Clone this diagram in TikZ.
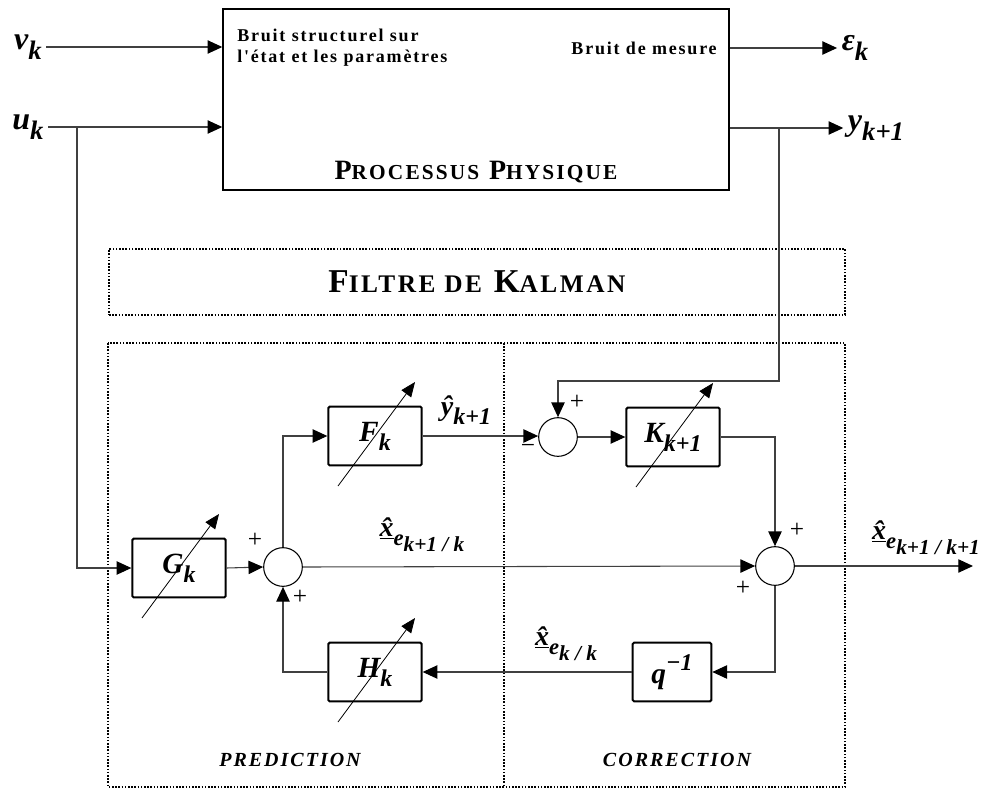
\documentclass[tikz,border=0pt]{standalone}
\usepackage{fontspec}
\setmainfont{Liberation Serif}
\newfontfamily\spaced[LetterSpace=10]{Liberation Serif}
\usetikzlibrary{arrows.meta,calc}

\tikzset{
  wire/.style={line width=0.8pt, draw=black!75},
  sig/.style={wire, -{Triangle[length=11pt,width=10pt,color=black]}},
  block/.style={draw, line width=1.5pt, rounded corners=1pt, minimum width=70pt,
    minimum height=44pt, inner sep=0pt, font=\fontsize{22}{22}\selectfont\bfseries\itshape},
  sum/.style={circle, draw, line width=0.8pt, minimum size=29pt, inner sep=0pt},
  adj/.style={line width=0.6pt, -{Triangle[length=11pt,width=9pt]}},
  frame/.style={draw, line width=1.2pt, dash pattern=on 1.2pt off 1.2pt},
  sgn/.style={font=\fontsize{19}{19}\selectfont},
  lbl/.style={font=\fontsize{24}{24}\selectfont\bfseries\itshape},
  est/.style={font=\fontsize{21}{21}\selectfont\bfseries\itshape},
  zonelbl/.style={font=\spaced\fontsize{15}{15}\selectfont\bfseries\itshape},
}
\newcommand{\lo}[2][18]{\raisebox{-0.3em}{\fontsize{#1}{#1}\selectfont #2}}
\newcommand{\up}[2][18]{\raisebox{0.45em}{\fontsize{#1}{#1}\selectfont #2}}
\newcommand{\tunable}[1]{\draw[adj] ([shift={(-37,50)}]#1.center) -- ([shift={(40,-54)}]#1.center);}

\begin{document}
\begin{tikzpicture}[x=0.75pt, y=-0.75pt]
  \useasboundingbox (0,0) rectangle (993,789);

  % physical process
  \node[draw, line width=1.1pt, minimum width=379.5pt, minimum height=135.75pt] (proc) at (476,99.5) {};
  \node[anchor=north west, align=left, inner sep=0pt,
    font=\spaced\fontsize{13.5}{15.5}\selectfont\bfseries] (bstruct) at (237,29)
    {Bruit structurel sur\\l'état et les paramètres};
  \node[anchor=east, inner sep=0pt, font=\spaced\fontsize{13.5}{13.5}\selectfont\bfseries] (bmes) at (717,48) {Bruit de mesure};
  \node[font=\spaced\fontsize{21}{21}\selectfont\bfseries] (ptitle) at (476,172)
    {P{\fontsize{16}{16}\selectfont ROCESSUS} P{\fontsize{16}{16}\selectfont HYSIQUE}};

  % inputs and outputs
  \node[lbl] (vk) at (28,47) {v\lo[20]{k}};
  \node[lbl] (uk) at (28,127) {u\lo[20]{k}};
  \node[lbl] (epsk) at (855,48) {ε\lo[20]{k}};
  \node[lbl] (yk) at (876,128) {y\lo[20]{k+1}};
  \coordinate (uj) at (77,127);
  \coordinate (yj) at (779,128);
  \coordinate (fb) at (779,381);
  \draw[sig] (vk) -- (vk -| proc.west);
  \draw[sig] (uk) -- (uk -| proc.west);
  \draw[sig] (proc.east |- epsk) -- (epsk);
  \draw[sig] (proc.east |- yk) -- (yk);

  % kalman filter frames
  \node[frame, minimum width=552pt, minimum height=49.5pt,
    font=\spaced\fontsize{25}{25}\selectfont\bfseries] (kal) at (477,282)
    {F{\fontsize{19}{19}\selectfont ILTRE DE} K{\fontsize{19}{19}\selectfont ALMAN}};
  \draw[frame] (108,343) rectangle (845,787);
  \draw[frame] (504,343) -- (504,787);
  \node[zonelbl] (pred) at (290,760) {PREDICTION};
  \node[zonelbl] (corr) at (677,760) {CORRECTION};

  % blocks
  \node[block] (G) at (179,568) {G\lo{k}};
  \node[block] (F) at (375,436) {F\lo{k}};
  \node[block] (K) at (673,437) {K\lo{k+1}};
  \node[block] (H) at (375,672) {H\lo{k}};
  \node[block, minimum width=59pt] (q) at (672,672) {q\up{−1}};
  \node[sum] (sP) at (283,567) {};
  \node[sum] (sC) at (558,437) {};
  \node[sum] (sU) at (775,566) {};
  \coordinate (out) at (973,566);

  \tunable{G}
  \tunable{F}
  \tunable{K}
  \tunable{H}

  % connections
  \draw[sig] (uj) |- (G.west);
  \draw[sig] (G.east) -- (sP.west);
  \draw[sig] (sP.north) |- (F.west);
  \draw[sig] (F.east) -- (F.east -| sC.west);
  \draw[sig] (yj) -- (fb) -| (sC.north);
  \draw[sig] (sC.east) -- (K.west);
  \draw[sig] (K.east) -| (sU.north);
  \draw[sig] (sP.east) -- (sU.west);
  \draw[sig] (sU.east) -- (out);
  \draw[sig] (sU.south) |- (q.east);
  \draw[sig] (q.west) -- (H.east);
  \draw[sig] (H.west) -| (sP.south);

  % signal labels
  \node[est] (yhat) at (466,410) {\^{y}\lo[18]{k+1}};
  \node[est] (xpred) at (422,535) {\underline{\^{x}}\lo[17]{e\lo[16]{k+1 / k}}};
  \node[est] (xcorr) at (926,538) {\underline{\^{x}}\lo[17]{e\lo[16]{k+1 / k+1}}};
  \node[est] (xprev) at (566,644) {\underline{\^{x}}\lo[17]{e\lo[16]{k / k}}};

  % signs
  \node[sgn] at (255,540) {+};
  \node[sgn] at (300,597) {+};
  \node[sgn] at (577,402) {+};
  \node[sgn] at (528,449) {−};
  \node[sgn] at (797,530) {+};
  \node[sgn] at (743,588) {+};
\end{tikzpicture}
\end{document}
